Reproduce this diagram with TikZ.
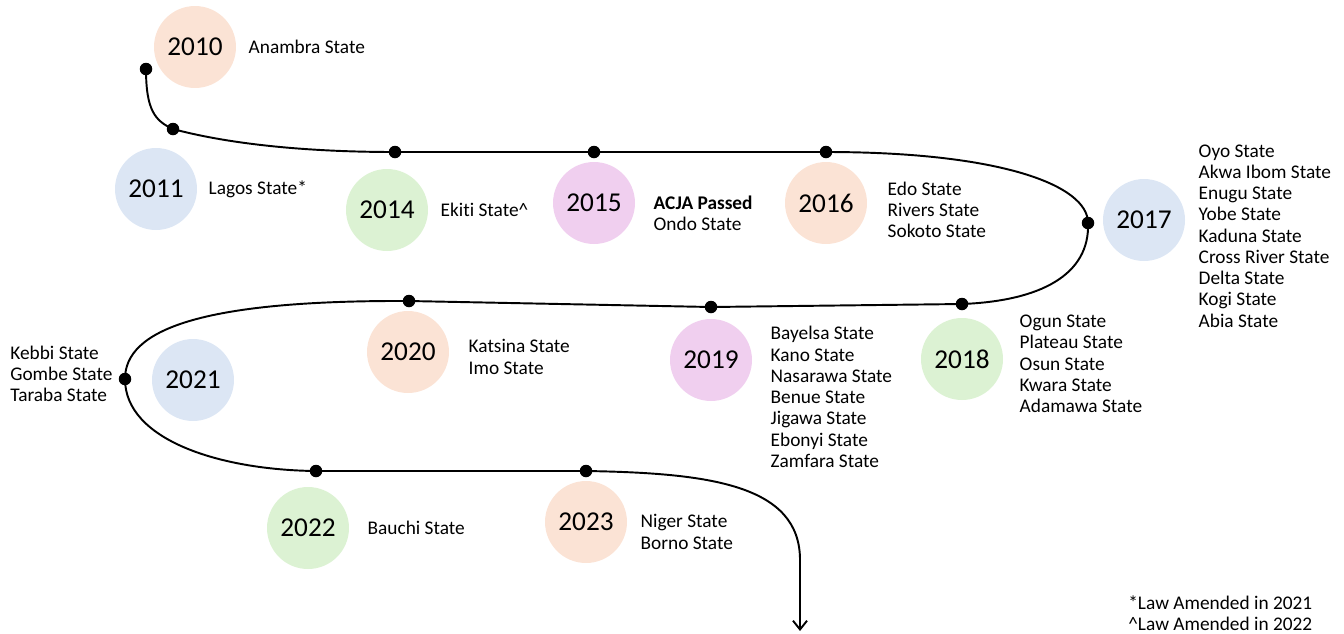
\documentclass[tikz,border=0pt]{standalone}
\usepackage{fontspec}
\setmainfont{Carlito}[Ligatures=NoCommon]
\usetikzlibrary{positioning,arrows.meta}
\definecolor{yrpeach}{HTML}{FBE3D5}
\definecolor{yrblue}{HTML}{DCE6F4}
\definecolor{yrgreen}{HTML}{DCF2D3}
\definecolor{yrpink}{HTML}{F0CFEF}

\begin{document}
\begin{tikzpicture}[x=0.02cm,y=-0.02cm,>={Straight Barb[length=5pt,width=8pt]},
                year/.style={circle,minimum size=1.64cm,inner sep=0pt,font=\fontsize{15.5}{18}\selectfont},
                states/.style={align=left,inner sep=0pt,font=\fontsize{11}{12.1}\selectfont},
                dot/.style={circle,fill=black,minimum size=0.25cm,inner sep=0pt}]
	\useasboundingbox (0,0) rectangle (1344,633);

	% year circles
	\node[year,fill=yrpeach] (y2010) at (195,47) {2010};
	\node[year,fill=yrblue] (y2011) at (156,189) {2011};
	\node[year,fill=yrgreen] (y2014) at (387,210) {2014};
	\node[year,fill=yrpink] (y2015) at (594,203) {2015};
	\node[year,fill=yrpeach] (y2016) at (826,203) {2016};
	\node[year,fill=yrblue] (y2017) at (1144,220) {2017};
	\node[year,fill=yrgreen] (y2018) at (962,359) {2018};
	\node[year,fill=yrpink] (y2019) at (711,360) {2019};
	\node[year,fill=yrpeach] (y2020) at (408,352) {2020};
	\node[year,fill=yrblue] (y2021) at (193,380) {2021};
	\node[year,fill=yrgreen] (y2022) at (308,528) {2022};
	\node[year,fill=yrpeach] (y2023) at (586,522) {2023};

	% states
	\node[states] (s2010) [right=0.24cm of y2010] {Anambra State};
	\node[states] (s2011) [right=0.22cm of y2011] {Lagos State*};
	\node[states] (s2014) [right=0.24cm of y2014] {Ekiti State\^{}};
	\node[states] (s2015) [right=0.36cm of y2015,yshift=-0.2cm] {\textbf{ACJA Passed}\\Ondo State};
	\node[states] (s2016) [right=0.4cm of y2016,yshift=-0.14cm] {Edo State\\Rivers State\\Sokoto State};
	\node[states] (s2017) [right=0.26cm of y2017,yshift=-0.32cm] {Oyo State\\Akwa Ibom State\\Enugu State\\Yobe State\\Kaduna State\\Cross River State\\Delta State\\Kogi State\\Abia State};
	\node[states] (s2018) [right=0.32cm of y2018,yshift=-0.1cm] {Ogun State\\Plateau State\\Osun State\\Kwara State\\Adamawa State};
	\node[states] (s2019) [right=0.36cm of y2019,yshift=-0.74cm] {Bayelsa State\\Kano State\\Nasarawa State\\Benue State\\Jigawa State\\Ebonyi State\\Zamfara State};
	\node[states] (s2020) [right=0.38cm of y2020,yshift=-0.1cm] {Katsina State\\Imo State};
	\node[states,anchor=west] (s2021) at (10,374) {Kebbi State\\Gombe State\\Taraba State};
	\node[states] (s2022) [right=0.36cm of y2022] {Bauchi State};
	\node[states] (s2023) [right=0.26cm of y2023,yshift=-0.2cm] {Niger State\\Borno State};
	\node[states,anchor=west] (notes) at (1128,613) {*Law Amended in 2021\\\^{}Law Amended in 2022};

	% timeline dots
	\node[dot] (d2010) at (146,69) {};
	\node[dot] (d2011) at (173,129) {};
	\node[dot] (d2014) at (395,152) {};
	\node[dot] (d2015) at (594,152) {};
	\node[dot] (d2016) at (826,152) {};
	\node[dot] (d2017) at (1088,223) {};
	\node[dot] (d2018) at (962,304) {};
	\node[dot] (d2019) at (711,307) {};
	\node[dot] (d2020) at (409,301) {};
	\node[dot] (d2021) at (125,379) {};
	\node[dot] (d2022) at (316,471) {};
	\node[dot] (d2023) at (586,471) {};
	\coordinate (bend) at (800,560);
	\coordinate (tip) at (800,631);

	\draw[line width=1.1pt,->] (d2010.center) .. controls (146,110) and (155,121) .. (d2011.center)
		.. controls (225,143) and (300,152) .. (d2014.center)
		-- (d2015.center) -- (d2016.center)
		.. controls (1000,152) and (1088,185) .. (d2017.center)
		.. controls (1090,275) and (1040,301) .. (d2018.center)
		-- (d2019.center) -- (d2020.center)
		.. controls (200,300) and (125,330) .. (d2021.center)
		.. controls (125,440) and (220,470) .. (d2022.center)
		-- (d2023.center)
		.. controls (710,473) and (800,485) .. (bend)
		-- (tip);
\end{tikzpicture}
\end{document}
